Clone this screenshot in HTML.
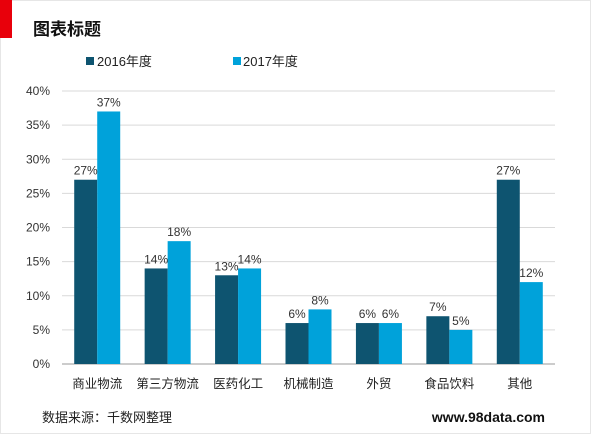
<!DOCTYPE html>
<html><head><meta charset="utf-8"><style>
body{margin:0;background:#fff;}
svg{display:block;font-family:"Liberation Sans","Noto Sans CJK SC",sans-serif;}
</style></head><body>
<svg width="600" height="434">
<rect x="0.5" y="0.5" width="590" height="433" fill="#fff" stroke="#e6e6e6"/>
<rect x="0" y="0" width="12" height="38" fill="#e8000b"/>
<text x="33" y="35" font-size="17" font-weight="bold" fill="#111">图表标题</text>
<g>
<rect x="86" y="57" width="8" height="8" fill="#0e5470"/>
<text x="97" y="66" font-size="13" fill="#222">2016年度</text>
<rect x="233" y="57" width="8" height="8" fill="#00a2da"/>
<text x="243" y="66" font-size="13" fill="#222">2017年度</text>
</g>
<g id="plot"></g>
<text x="42" y="422" font-size="13" fill="#222">数据来源：千数网整理</text>
<text x="545" y="422" font-size="14" font-weight="bold" text-anchor="end" fill="#111">www.98data.com</text>
</svg>
<script>
const categories=["商业物流","第三方物流","医药化工","机械制造","外贸","食品饮料","其他"];
const values2016=[27,14,13,6,6,7,27];
const values2017=[37,18,14,8,6,5,12];
const ticks=[0,5,10,15,20,25,30,35,40];
const NS="http://www.w3.org/2000/svg";
const g=document.getElementById("plot");
const x0=62,x1=555,yBase=364,yTop=91,max=40;
const y=v=>yBase-(yBase-yTop)*v/max;
const step=(x1-x0)/categories.length;
const cx=i=>x0+step*(i+0.5);
const bw=23;
function mk(tag,a,t){const e=document.createElementNS(NS,tag);for(const k in a)e.setAttribute(k,a[k]);if(t!==undefined)e.textContent=t;g.appendChild(e);return e;}
ticks.forEach(t=>{
 const l=mk("line",{x1:x0,x2:x1,y1:y(t),y2:y(t),stroke:t===0?"#999":"#d9d9d9","stroke-width":1});
 
 
 const tx=mk("text",{x:50,y:y(t)+4,"font-size":12,"text-anchor":"end",fill:"#333"},t+"%");
 
 
});
categories.forEach((c,i)=>{
 const a=values2016[i],b=values2017[i];
 const r1=mk("rect",{x:cx(i)-bw,y:y(a),width:bw,height:yBase-y(a),fill:"#0e5470"});
 
 
 const r2=mk("rect",{x:cx(i),y:y(b),width:bw,height:yBase-y(b),fill:"#00a2da"});
 
 
 const l1=mk("text",{x:cx(i)-bw/2,y:y(a)-5,"font-size":12,"text-anchor":"middle",fill:"#333"},a+"%");
 
 
 const l2=mk("text",{x:cx(i)+bw/2,y:y(b)-5,"font-size":12,"text-anchor":"middle",fill:"#333"},b+"%");
 
 
 const cl=mk("text",{x:cx(i),y:388,"font-size":12.5,"text-anchor":"middle",fill:"#222"},c);
 
 
});
</script>
</body></html>
